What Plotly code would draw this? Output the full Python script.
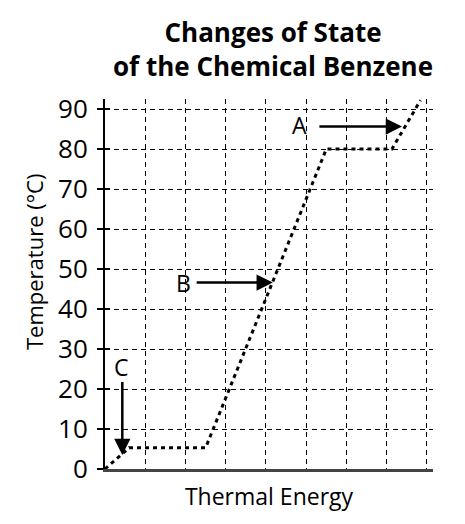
import plotly.graph_objects as go

# heating curve of benzene (energy in grid units, temperature in degC)
energy = [0, 0.6, 2.5, 5.5, 7.13, 7.84]
temperature = [0, 5.3, 5.3, 80, 80, 92.2]

y_ticks = [0, 10, 20, 30, 40, 50, 60, 70, 80, 90]

title_lines = ["Changes of State", "of the Chemical Benzene"]

# arrow labels with letter position, arrow tail and arrow tip
labels = ["A", "B", "C"]
label_x = [4.83, 1.94, 0.42]
label_y = [86.1, 46.5, 25.6]
tail_x = [5.29, 2.24, 0.43]
tail_y = [85.6, 46.6, 22.1]
tip_x = [7.38, 4.17, 0.43]
tip_y = [85.6, 46.6, 3.5]

FONT = "Open Sans"

fig = go.Figure()

fig.add_trace(go.Scatter(
    x=energy, y=temperature,
    mode="lines",
    line=dict(color="black", width=3, dash="4px,4px"),
    hoverinfo="skip",
    showlegend=False,
))

# arrows and their letters
for i, lab in enumerate(labels):
    fig.add_annotation(
        x=tip_x[i], y=tip_y[i], ax=tail_x[i], ay=tail_y[i],
        xref="x", yref="y", axref="x", ayref="y",
        text="", showarrow=True,
        arrowhead=2, arrowsize=1.3, arrowwidth=2.5, arrowcolor="black",
    )
    fig.add_annotation(
        x=label_x[i], y=label_y[i], xref="x", yref="y",
        text=lab, showarrow=False,
        font=dict(family=FONT, size=23, color="black"),
    )

# title as one two-line text block
fig.add_annotation(
    x=0.512, y=1.135, xref="paper", yref="paper",
    xanchor="center", yanchor="middle",
    text="<b>" + "<br>".join(title_lines) + "</b>", showarrow=False,
    font=dict(family=FONT, size=26, color="black"),
)

# y axis title sits above the middle of the axis in the reference
fig.add_annotation(
    x=-0.2165, y=0.562, xref="paper", yref="paper",
    xanchor="center", yanchor="middle", textangle=-90,
    text="Temperature (°C)", showarrow=False,
    font=dict(family=FONT, size=22, color="black"),
)

fig.update_layout(
    width=465, height=524,
    paper_bgcolor="white", plot_bgcolor="white",
    margin=dict(l=97, r=40, t=91, b=63),
    xaxis=dict(
        range=[0, 8.15], dtick=1, tick0=0,
        showticklabels=False, ticks="",
        showgrid=True, gridcolor="black", gridwidth=1, griddash="5px,4px",
        zeroline=False,
        showline=True, linecolor="#444", linewidth=2.5,
        title=dict(text="Thermal Energy", standoff=19,
                   font=dict(family=FONT, size=23, color="black")),
    ),
    yaxis=dict(
        range=[0, 92.5], tickvals=y_ticks,
        ticks="outside", ticklen=6, tickwidth=1.5, tickcolor="black",
        ticklabelstandoff=4,
        tickfont=dict(family=FONT, size=26, color="black"),
        showgrid=True, gridcolor="black", gridwidth=1, griddash="5px,4px",
        zeroline=False,
        showline=True, linecolor="black", linewidth=2,
    ),
    # second y axis only to draw the inward half of the cross ticks
    yaxis2=dict(
        range=[0, 92.5], tickvals=y_ticks, overlaying="y", side="left",
        ticks="inside", ticklen=5, tickwidth=1.5, tickcolor="black",
        showticklabels=False, showgrid=False, zeroline=False, showline=False,
    ),
)

fig.add_trace(go.Scatter(x=[None], y=[None], yaxis="y2", showlegend=False,
                         hoverinfo="skip"))

fig.write_html("out.html")
